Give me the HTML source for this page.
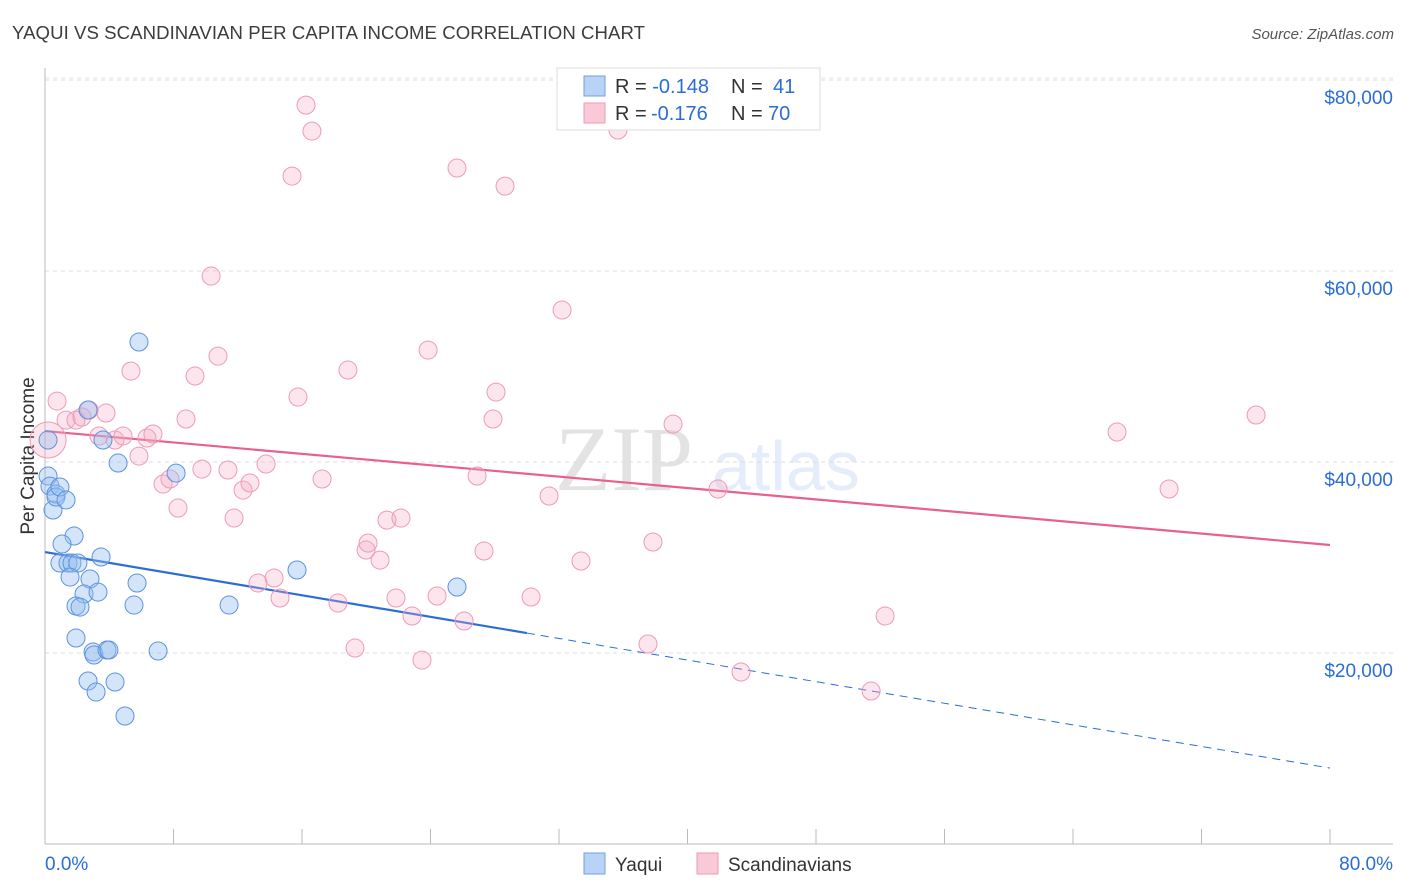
<!DOCTYPE html>
<html><head><meta charset="utf-8">
<style>
body{margin:0;background:#fff;font-family:"Liberation Sans",sans-serif;}
svg{display:block}
</style></head>
<body>
<svg id="chart" width="1406" height="892">
<text x="12" y="39" font-size="18.6" fill="#3c3c3c" textLength="633">YAQUI VS SCANDINAVIAN PER CAPITA INCOME CORRELATION CHART</text>
<text x="1394" y="39" font-size="15" fill="#555" text-anchor="end" font-style="italic">Source: ZipAtlas.com</text>
<text x="34" y="456" font-size="19" fill="#333" text-anchor="middle" transform="rotate(-90 34 456)">Per Capita Income</text>
<g opacity="0.13">
<text x="555" y="490" font-size="92" font-family="Liberation Serif,serif" fill="#333">ZIP</text>
<text x="712" y="490" font-size="70" fill="#3a7bd5">atlas</text>
</g>
<g id="grid"></g><g id="axes"></g><g id="lines"></g><g id="pts"></g>
<g>
<rect x="557" y="68" width="263" height="62" fill="#fff" stroke="#ddd"/>
<rect x="584" y="76" width="21" height="20" fill="#b8d3f5" stroke="#6fa0e0"/>
<rect x="584" y="103" width="21" height="20" fill="#f9c9d8" stroke="#ee9ab5"/>
<text x="615" y="93" font-size="20" fill="#333">R = <tspan fill="#2a6dd6">-0.148</tspan><tspan x="731">N = </tspan><tspan fill="#2a6dd6" x="773">41</tspan></text>
<text x="615" y="120" font-size="20" fill="#333">R = <tspan fill="#2a6dd6" x="651">-0.176</tspan><tspan x="731">N = </tspan><tspan fill="#2a6dd6" x="768">70</tspan></text>
</g>
<g>
<rect x="584" y="853" width="21" height="21" fill="#b8d3f5" stroke="#6fa0e0"/>
<text x="615" y="871" font-size="19" fill="#333">Yaqui</text>
<rect x="697" y="853" width="21" height="21" fill="#f9c9d8" stroke="#ee9ab5"/>
<text x="728" y="871" font-size="19" fill="#333">Scandinavians</text>
</g>
</svg>
<script>
const yTicks=[20000,40000,60000,80000];
const yTickLabels=["$20,000","$40,000","$60,000","$80,000"];
const xTicks=[0,8,16,24,32,40,48,56,64,72,80];
const yaquiX=[0.19,0.19,0.31,0.50,0.68,0.68,0.93,1.31,1.81,1.06,0.93,1.43,1.68,2.05,1.56,2.80,3.49,2.43,3.30,1.93,2.18,5.73,5.54,1.93,2.99,3.05,3.86,3.98,7.04,2.68,4.36,3.18,4.98,5.85,2.68,3.61,4.55,8.16,11.46,15.69,25.65];
const yaquiY=[42300,38530,37480,34970,36650,36330,37380,36020,32250,31410,29420,29420,29420,29420,27950,27750,30050,26180,26380,24920,24810,27330,25020,21570,20100,19790,20310,20310,20210,17070,16960,15910,13400,52560,45440,42300,39890,38840,25020,28690,26910];
const scanX=[0.19,0.75,1.31,1.93,2.30,2.74,3.80,3.36,4.36,4.86,6.35,6.72,5.85,7.35,7.78,8.28,8.78,9.34,9.77,10.34,10.77,11.39,11.77,12.33,12.76,13.26,13.76,14.26,14.63,5.35,15.38,15.75,16.25,16.62,17.25,18.24,18.86,19.30,19.99,20.11,20.86,21.29,21.85,22.16,22.85,23.47,23.85,24.41,25.65,26.09,26.90,27.33,27.89,28.08,28.64,30.26,31.38,32.19,33.37,35.67,37.54,37.85,39.10,41.90,43.33,51.43,52.30,66.74,69.98,75.40];
const scanY=[42300,46380,44390,44390,44710,45440,45130,42720,42300,42720,42510,42930,40620,37690,38220,35180,44500,49000,39260,59470,51090,39160,34130,37060,37800,27330,39790,27850,25760,49520,69940,46800,77370,74650,38220,25230,49630,20520,30780,31510,29730,33920,25760,34130,23870,19260,51720,25970,70780,23350,38530,30680,44500,47320,68890,25860,36440,55910,29630,74760,20940,31620,43970,37170,18010,16020,23870,43140,37170,44920];
const yaquiTrend=[30570,7950];
const scanTrend=[43240,31310];
const NS="http://www.w3.org/2000/svg";
const X0=45,X1=1330,YB=844,YPX=191/20000;
function sx(v){return X0+(v/80)*(X1-X0);}
function sy(v){return YB-v*YPX;}
function mk(tag,attrs,parent){const e=document.createElementNS(NS,tag);for(const k in attrs)e.setAttribute(k,attrs[k]);document.getElementById(parent).appendChild(e);return e;}
yTicks.forEach((t,i)=>{
 const g=mk('line',{x1:45,x2:1393,y1:sy(t),y2:sy(t),stroke:'#ddd','stroke-dasharray':'4,4'},'grid');
 
 
 const l=mk('text',{x:1393,y:sy(t)+24,'font-size':19,fill:'#2a6dd6','text-anchor':'end'},'grid');
 l.textContent=yTickLabels[i];
 
 
});
mk('line',{x1:45,x2:1393,y1:sy(80000)-2,y2:sy(80000)-2,stroke:'#e4e4e4','stroke-dasharray':'4,4'},'grid');
const ax=mk('line',{x1:45,x2:1393,y1:844,y2:844,stroke:'#bbb'},'axes');


const ay=mk('line',{x1:45,x2:45,y1:68,y2:844,stroke:'#bbb'},'axes');


xTicks.forEach(t=>{
 const k=mk('line',{x1:sx(t),x2:sx(t),y1:829,y2:844,stroke:'#bbb'},'axes');
 
 
});
const xl0=mk('text',{x:45,y:870,'font-size':19,fill:'#2a6dd6'},'axes');xl0.textContent=xTicks[0].toFixed(1)+'%';


const xl1=mk('text',{x:1393,y:870,'font-size':19,fill:'#2a6dd6','text-anchor':'end'},'axes');xl1.textContent=xTicks[xTicks.length-1].toFixed(1)+'%';


const pl=mk('line',{x1:sx(0),y1:sy(scanTrend[0]),x2:sx(80),y2:sy(scanTrend[1]),stroke:'#e8608d','stroke-width':2.2},'lines');


const yAt=x=>yaquiTrend[0]+(yaquiTrend[1]-yaquiTrend[0])*x/80;
const bl=mk('line',{x1:sx(0),y1:sy(yAt(0)),x2:sx(30),y2:sy(yAt(30)),stroke:'#2a6dd6','stroke-width':2.2},'lines');


const bd=mk('line',{x1:sx(30),y1:sy(yAt(30)),x2:sx(80),y2:sy(yAt(80)),stroke:'#2a6dd6','stroke-width':1,'stroke-dasharray':'8,6'},'lines');


scanX.forEach((x,i)=>{
 const c=mk('circle',{cx:sx(x),cy:sy(scanY[i]),r:i===0?18:9,fill:'rgba(246,170,195,0.3)',stroke:'#ee9ab5','stroke-width':1},'pts');
 
 
});
yaquiX.forEach((x,i)=>{
 const c=mk('circle',{cx:sx(x),cy:sy(yaquiY[i]),r:9,fill:'rgba(150,190,240,0.4)',stroke:'#5b93dd','stroke-width':1},'pts');
 
 
});
</script>
</body></html>
